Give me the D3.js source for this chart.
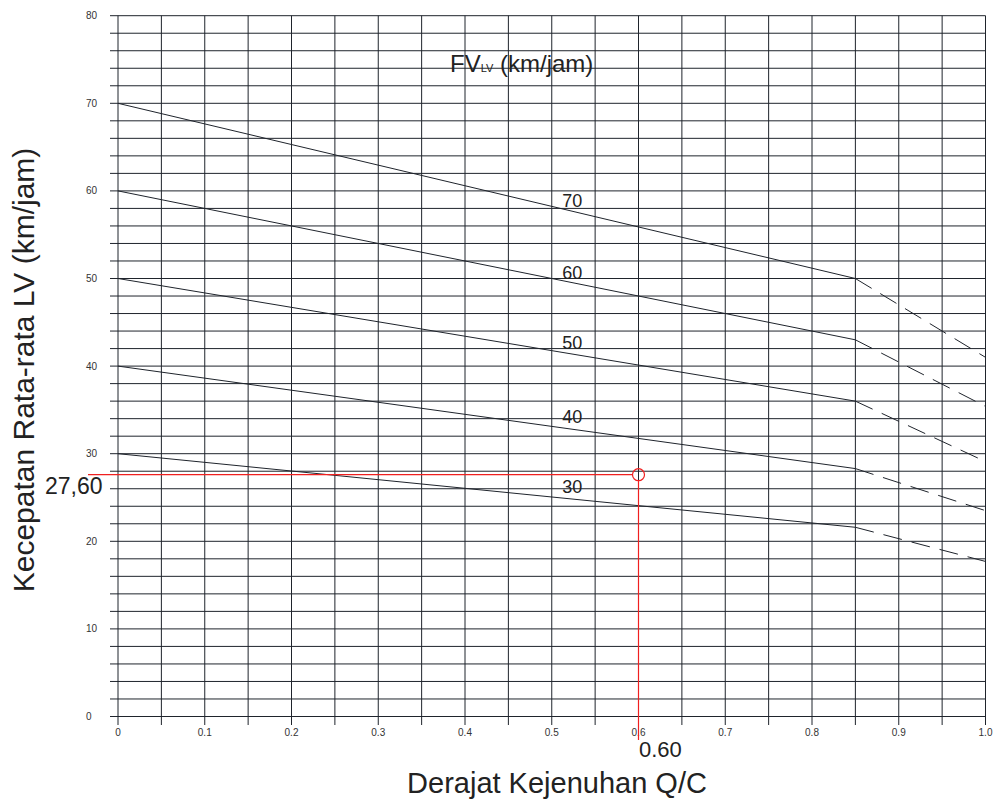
<!DOCTYPE html>
<html lang="id">
<head>
<meta charset="utf-8">
<script src="https://d3js.org/d3.v7.min.js"></script>
<style>
  body { margin: 0; background: #fff; }
  svg { display: block; font-family: "Liberation Sans", Arial, sans-serif; }
</style>
</head>
<body>
<svg width="995" height="802"></svg>
<script>
// data
var fvLabels = [70, 60, 50, 40, 30];
var qcPoints = [0, 0.85, 1.0];
var speedAt0 = [70, 60, 50, 40, 30];
var speedAt085 = [50, 43, 36, 28.3, 21.6];
var speedAt100 = [41, 35.4, 29.1, 23.5, 17.7];
var labelPos = [58.2, 49.9, 42.0, 33.5, 25.5]; // speed value where each label sits
var xTicks = [0, 0.1, 0.2, 0.3, 0.4, 0.5, 0.6, 0.7, 0.8, 0.9, 1.0];
var yTicks = [0, 10, 20, 30, 40, 50, 60, 70, 80];
var pickQC = 0.6, pickV = 27.6;

var svg = d3.select("svg");
var x = d3.scaleLinear().domain([0, 1]).range([118, 985.5]);
var y = d3.scaleLinear().domain([0, 80]).range([716.5, 15.7]);
var ink = "#1f242c";

// grid
var grid = svg.append("g").attr("stroke", ink).attr("stroke-width", 1);
grid.selectAll(".h").data(d3.range(0, 81, 2)).enter().append("line")
  .attr("x1", x(0) - 8).attr("x2", x(1))
  .attr("y1", d => y(d)).attr("y2", d => y(d));
grid.selectAll(".v").data(d3.range(0, 21).map(i => i * 0.05)).enter().append("line")
  .attr("x1", d => x(d)).attr("x2", d => x(d))
  .attr("y1", y(80)).attr("y2", y(0) + 8.5);

// tick labels
svg.append("g").selectAll("text").data(yTicks).enter().append("text")
  .attr("x", 86).attr("y", d => y(d)).attr("dy", "0.35em")
  .attr("font-size", 10).attr("fill", "#333").text(d => d);
svg.append("g").selectAll("text").data(xTicks).enter().append("text")
  .attr("x", d => x(d)).attr("y", 736).attr("text-anchor", "middle")
  .attr("font-size", 10).attr("fill", "#333").text(d => d === 0 ? "0" : d.toFixed(1));

// curves: solid up to 0.85, dashed after
var line = d3.line().x(d => x(d[0])).y(d => y(d[1]));
fvLabels.forEach(function(fv, i) {
  var pts = [[qcPoints[0], speedAt0[i]], [qcPoints[1], speedAt085[i]], [qcPoints[2], speedAt100[i]]];
  svg.append("path").attr("d", line(pts.slice(0, 2)))
    .attr("fill", "none").attr("stroke", ink).attr("stroke-width", 1);
  svg.append("path").attr("d", line(pts.slice(1)))
    .attr("fill", "none").attr("stroke", ink).attr("stroke-width", 1)
    .attr("stroke-dasharray", "19,10");
  svg.append("text").attr("x", x(0.512)).attr("y", y(labelPos[i]))
    .attr("font-size", 18).attr("fill", "#222").text(fv);
});

// legend title
var t = svg.append("text").attr("x", 450).attr("y", 72).attr("font-size", 24).attr("fill", "#222");
t.append("tspan").text("FV");
t.append("tspan").attr("font-size", 11).text("LV");
t.append("tspan").text(" (km/jam)");

// red reading lines
var red = "#f02020";
svg.append("line").attr("x1", 88).attr("x2", x(pickQC) - 6)
  .attr("y1", y(pickV)).attr("y2", y(pickV)).attr("stroke", red).attr("stroke-width", 1.2);
svg.append("line").attr("x1", x(pickQC)).attr("x2", x(pickQC))
  .attr("y1", y(pickV) + 6).attr("y2", 740).attr("stroke", red).attr("stroke-width", 1.2);
svg.append("circle").attr("cx", x(pickQC)).attr("cy", y(pickV)).attr("r", 6)
  .attr("fill", "none").attr("stroke", red).attr("stroke-width", 1.2);
svg.append("text").attr("x", 45).attr("y", 494).attr("font-size", 23).attr("fill", "#222").text("27,60");
svg.append("text").attr("x", 639).attr("y", 757).attr("font-size", 22).attr("fill", "#222").text("0.60");

// axis titles
svg.append("text").attr("x", 557).attr("y", 793).attr("text-anchor", "middle")
  .attr("font-size", 29).attr("fill", "#222").text("Derajat Kejenuhan Q/C");
svg.append("text").attr("transform", "translate(34,370) rotate(-90)").attr("text-anchor", "middle")
  .attr("font-size", 30).attr("fill", "#222").text("Kecepatan Rata-rata LV (km/jam)");
</script>
</body>
</html>
